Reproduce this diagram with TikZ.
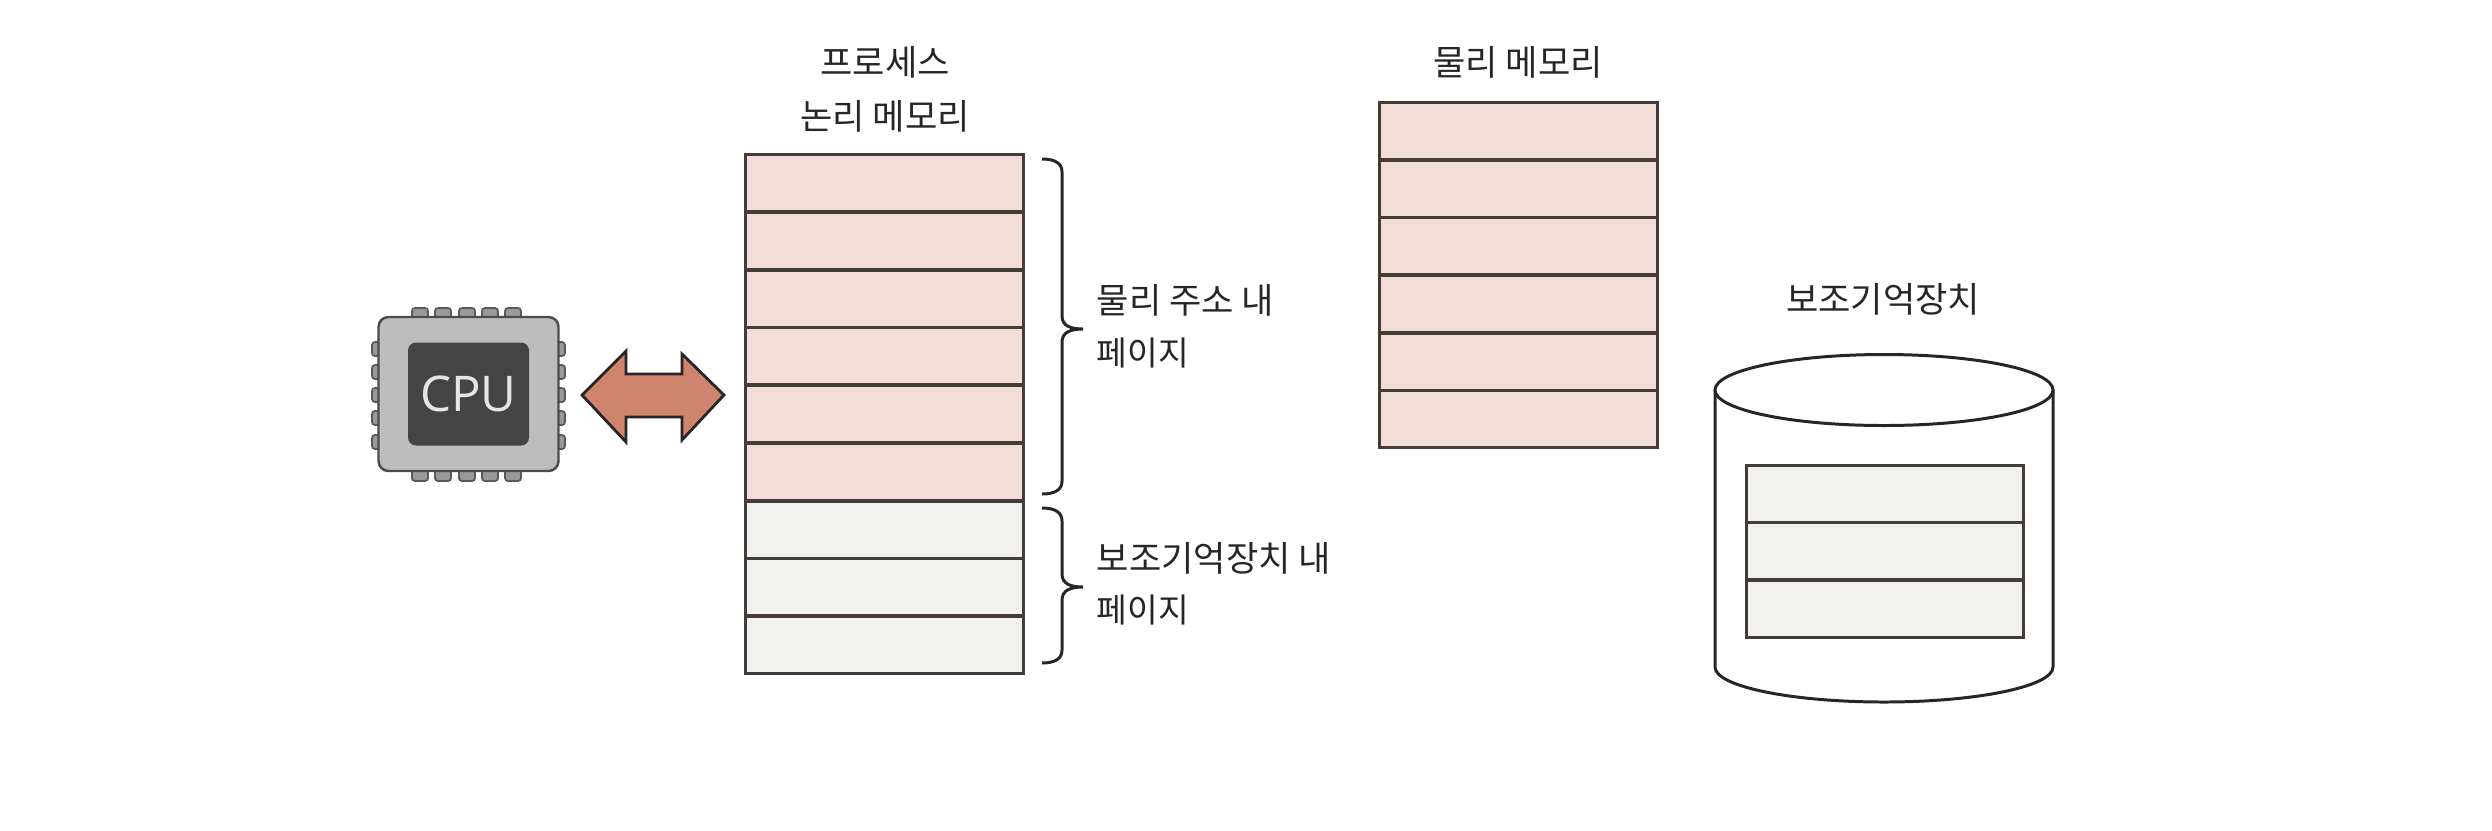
\documentclass[tikz,border=0pt]{standalone}
\usepackage{fontspec}
\setmainfont{Noto Sans CJK KR}
\newfontfamily\cpufont{Open Sans}
\definecolor{inkline}{HTML}{443C39}
\definecolor{pagepink}{HTML}{F2DDD7}
\definecolor{pagegrey}{HTML}{F1F1F0}
\definecolor{arrowred}{HTML}{D0846E}
\definecolor{chipgrey}{HTML}{BDBDBD}
\definecolor{chipdark}{HTML}{444444}
\tikzset{
  pagerow/.style={draw=inkline, line width=0.85pt, minimum width=2.78cm, minimum height=0.578cm, inner sep=0pt},
  mainpage/.style={pagerow, fill=pagepink},
  swappage/.style={pagerow, fill=pagegrey},
  caption/.style={font=\fontsize{10}{12}\selectfont, text=black!85, inner sep=0pt},
  smallcaption/.style={caption, font=\fontsize{9.5}{11}\selectfont},
  chippin/.style={draw=black!65, fill=black!40, line width=0.5pt, rounded corners=0.03cm},
  curly/.style={draw=black!85, line width=0.85pt}
}
\begin{document}
\begin{tikzpicture}
    \useasboundingbox (0,0) rectangle (24.92,8.30);

    % cpu
    \foreach \x in {4.20,4.43,4.67,4.90,5.13} {
        \draw[chippin] (\x-0.08,5.10) rectangle (\x+0.08,5.22);
        \draw[chippin] (\x-0.08,3.49) rectangle (\x+0.08,3.62);
    }
    \foreach \y in {3.88,4.12,4.35,4.58,4.81} {
        \draw[chippin] (3.72,\y-0.07) rectangle (3.82,\y+0.07);
        \draw[chippin] (5.55,\y-0.07) rectangle (5.65,\y+0.07);
    }
    \node[draw=black!70, fill=chipgrey, line width=0.7pt, rounded corners=0.1cm, minimum width=1.80cm, minimum height=1.54cm] (chip) at (4.685,4.36) {};
    \node[fill=chipdark, rounded corners=0.08cm, minimum width=1.21cm, minimum height=1.03cm, text=white!90!black, font=\cpufont\fontsize{14}{14}\selectfont, inner sep=0pt] (cpu) at (4.685,4.36) {CPU};

    % double arrow
    \draw[fill=arrowred, draw=black!85, line width=0.8pt, line join=miter] (5.82,4.35) -- (6.26,4.79) -- (6.26,4.56) -- (6.82,4.56) -- (6.82,4.76) -- (7.24,4.35) -- (6.82,3.90) -- (6.82,4.13) -- (6.26,4.13) -- (6.26,3.88) -- cycle;

    % logical memory
    \node[mainpage] (log1) at (8.84,6.47) {};
    \node[mainpage] (log2) at (8.84,5.89) {};
    \node[mainpage] (log3) at (8.84,5.31) {};
    \node[mainpage] (log4) at (8.84,4.74) {};
    \node[mainpage] (log5) at (8.84,4.16) {};
    \node[mainpage] (log6) at (8.84,3.58) {};
    \node[swappage] (log7) at (8.84,3.00) {};
    \node[swappage] (log8) at (8.84,2.43) {};
    \node[swappage] (log9) at (8.84,1.85) {};
    \node[caption] (proc) at (8.85,7.68) {프로세스};
    \node[caption] (logname) at (8.85,7.14) {논리 메모리};

    % physical memory
    \node[mainpage] (phys1) at (15.18,6.99) {};
    \node[mainpage] (phys2) at (15.18,6.41) {};
    \node[mainpage] (phys3) at (15.18,5.84) {};
    \node[mainpage] (phys4) at (15.18,5.26) {};
    \node[mainpage] (phys5) at (15.18,4.68) {};
    \node[mainpage] (phys6) at (15.18,4.11) {};
    \node[caption] (physname) at (15.18,7.68) {물리 메모리};

    % braces
    \coordinate (uppertop) at (10.42,6.71);
    \coordinate (uppertip) at (10.83,5.01);
    \coordinate (upperend) at (10.42,3.36);
    \coordinate (lowertop) at (10.42,3.22);
    \coordinate (lowertip) at (10.83,2.43);
    \coordinate (lowerend) at (10.42,1.67);
    \draw[curly] (uppertop) .. controls +(0.14,0) and +(0,0.08) .. (10.62,6.58) -- (10.62,5.14) .. controls +(0,-0.10) and +(-0.12,0) .. (uppertip) .. controls +(-0.12,0) and +(0,0.10) .. (10.62,4.88) -- (10.62,3.49) .. controls +(0,-0.08) and +(0.14,0) .. (upperend);
    \draw[curly] (lowertop) .. controls +(0.14,0) and +(0,0.08) .. (10.62,3.09) -- (10.62,2.56) .. controls +(0,-0.10) and +(-0.12,0) .. (lowertip) .. controls +(-0.12,0) and +(0,0.10) .. (10.62,2.30) -- (10.62,1.80) .. controls +(0,-0.08) and +(0.14,0) .. (lowerend);
    \node[caption, anchor=west] (inmem) at (10.96,5.30) {물리 주소 내};
    \node[smallcaption, anchor=west] (inmempage) at (10.96,4.77) {페이지};
    \node[caption, anchor=west] (indisk) at (10.96,2.72) {보조기억장치 내};
    \node[smallcaption, anchor=west] (indiskpage) at (10.96,2.20) {페이지};

    % disk
    \draw[draw=black!85, fill=white, line width=0.85pt] (17.15,4.40) -- (17.15,1.63) arc[start angle=180, end angle=360, x radius=1.69, y radius=0.35] -- (20.53,4.40);
    \draw[draw=black!85, fill=white, line width=0.85pt] (18.84,4.40) ellipse (1.69 and 0.355);
    \node[swappage, minimum width=2.77cm, minimum height=0.57cm] (disk1) at (18.85,3.36) {};
    \node[swappage, minimum width=2.77cm, minimum height=0.57cm] (disk2) at (18.85,2.79) {};
    \node[swappage, minimum width=2.77cm, minimum height=0.57cm] (disk3) at (18.85,2.21) {};
    \node[caption] (diskname) at (18.83,5.31) {보조기억장치};
\end{tikzpicture}
\end{document}
